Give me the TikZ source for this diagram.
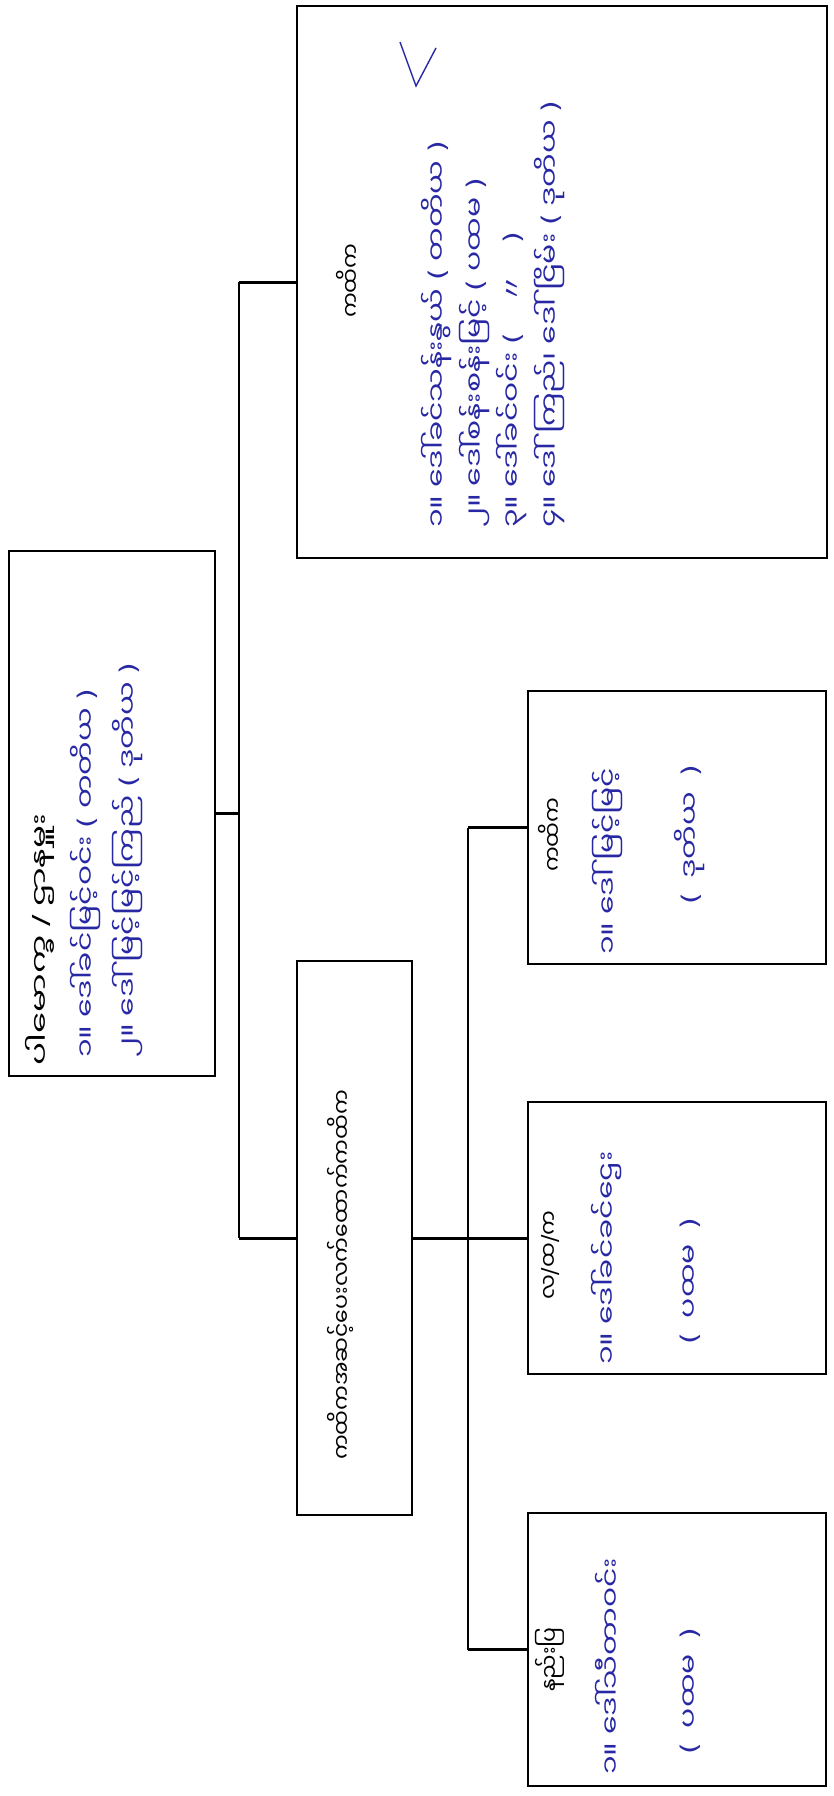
\documentclass[tikz,border=0pt]{standalone}
\usepackage{fontspec}
\usepackage{graphicx}
\newfontfamily\mya[Script=Myanmar]{Noto Sans Myanmar UI}
\newfontfamily\dvs{DejaVu Sans}
\newfontfamily\cjkf{Noto Sans CJK SC}
\newcommand{\myLP}{{\dvs(}}
\newcommand{\myRP}{{\dvs)}}
\newcommand{\mySL}{{\dvs/}}
\newcommand{\myDT}{{\cjkf 〃}}
\newcommand{\HS}[1]{\scalebox{1.3}[1]{#1}}
\newcommand{\PS}[1]{\scalebox{1.55}[1]{#1}}
\definecolor{ink}{RGB}{40,40,165}
\begin{document}
\begin{tikzpicture}[x=1pt,y=1pt,
  box/.style={draw, line width=2.2pt, inner sep=0pt},
  wire/.style={line width=2.8pt},
  prt/.style={rotate=90, anchor=west, inner sep=0pt, font=\mya\fontsize{22}{24}\selectfont},
  hw/.style={rotate=90, anchor=west, inner sep=0pt, text=ink, font=\mya\fontsize{23}{26}\selectfont}]
\useasboundingbox (0,0) rectangle (833,-1796);
\fill[white] (0,0) rectangle (833,-1796);
% boxes
\node[box, anchor=north west, minimum width=206pt, minimum height=525pt] (root) at (8,-550) {};
\node[box, anchor=north west, minimum width=530pt, minimum height=552pt] (big) at (296,-5) {};
\node[box, anchor=north west, minimum width=115pt, minimum height=554pt] (mid) at (296,-960) {};
\node[box, anchor=north west, minimum width=298pt, minimum height=273pt] (c1) at (527,-690) {};
\node[box, anchor=north west, minimum width=298pt, minimum height=272pt] (c2) at (527,-1101) {};
\node[box, anchor=north west, minimum width=298pt, minimum height=273pt] (c3) at (527,-1512) {};
% junctions
\coordinate (j1) at (239,0);
\coordinate (j2) at (468,0);
\draw[wire] (root.east) -- (root.east -| j1);
\draw[wire] (big.west -| j1) -- (mid.west -| j1);
\draw[wire] (big.west -| j1) -- (big.west);
\draw[wire] (mid.west -| j1) -- (mid.west);
\draw[wire] (mid.east) -- (c2.west);
\draw[wire] (c1.west -| j2) -- (c3.west -| j2);
\draw[wire] (c1.west -| j2) -- (c1.west);
\draw[wire] (c3.west -| j2) -- (c3.west);
% root texts
\node[prt] (rt) at (40,-1066) {\PS{ပါမောက္ခ \mySL{} ဌာနမှူး}};
\node[hw] (r1) at (86,-1058) {\HS{၁။ ဒေါ်ခင်မြင့်ဝင်း \myLP{} တတိယ \myRP}};
\node[hw] (r2) at (128,-1058) {\HS{၂။ ဒေါ်မြင့်မြင့်ကြည် \myLP{} ဒုတိယ \myRP}};
% big box texts
\node[prt] (bt) at (348,-318) {ကထိက};
\node[hw] (b1) at (437,-528) {\HS{၁။ ဒေါ်ခင်သန်းနွယ် \myLP{} တတိယ \myRP}};
\node[hw] (b2) at (475,-528) {\HS{၂။ ဒေါ်စန်းစန်းမြင့် \myLP{} ပထမ \myRP}};
\node[hw] (b3) at (512,-528) {\HS{၃။ ဒေါ်ခင်ဝင်း \myLP{}\quad\myDT\quad\myRP}};
\node[hw] (b4) at (550,-528) {\HS{၄။ ဒေါ်ကြည်၊ ဒေါ်ငြိမ်း \myLP{} ဒုတိယ \myRP}};
\draw[ink, line width=1.4pt] (400,-42) -- (416,-86) -- (436,-48);
% middle
\node[prt] (mt) at (340,-1460) {ကထိကအဆင့်ပေးလက်ထောက်ကထိက};
% children
\node[prt] (t1) at (550,-872) {ကထိက};
\node[hw] (n1) at (607,-955) {\HS{၁။ ဒေါ်မြင့်မြင့်}};
\node[hw] (p1) at (690,-905) {\HS{\myLP{}\enspace ဒုတိယ\enspace\myRP}};
\node[prt] (t2) at (550,-1300) {လ\mySL ထ\mySL က};
\node[hw] (n2) at (607,-1365) {\HS{၁။ ဒေါ်ခင်ခင်ဌေး}};
\node[hw] (p2) at (690,-1345) {\HS{\myLP{}\enspace ပထမ\enspace\myRP}};
\node[prt] (t3) at (550,-1692) {နည်းပြ};
\node[hw] (n3) at (607,-1775) {\HS{၁။ ဒေါ်သီတာဝင်း}};
\node[hw] (p3) at (690,-1755) {\HS{\myLP{}\enspace ပထမ\enspace\myRP}};
\end{tikzpicture}
\end{document}
